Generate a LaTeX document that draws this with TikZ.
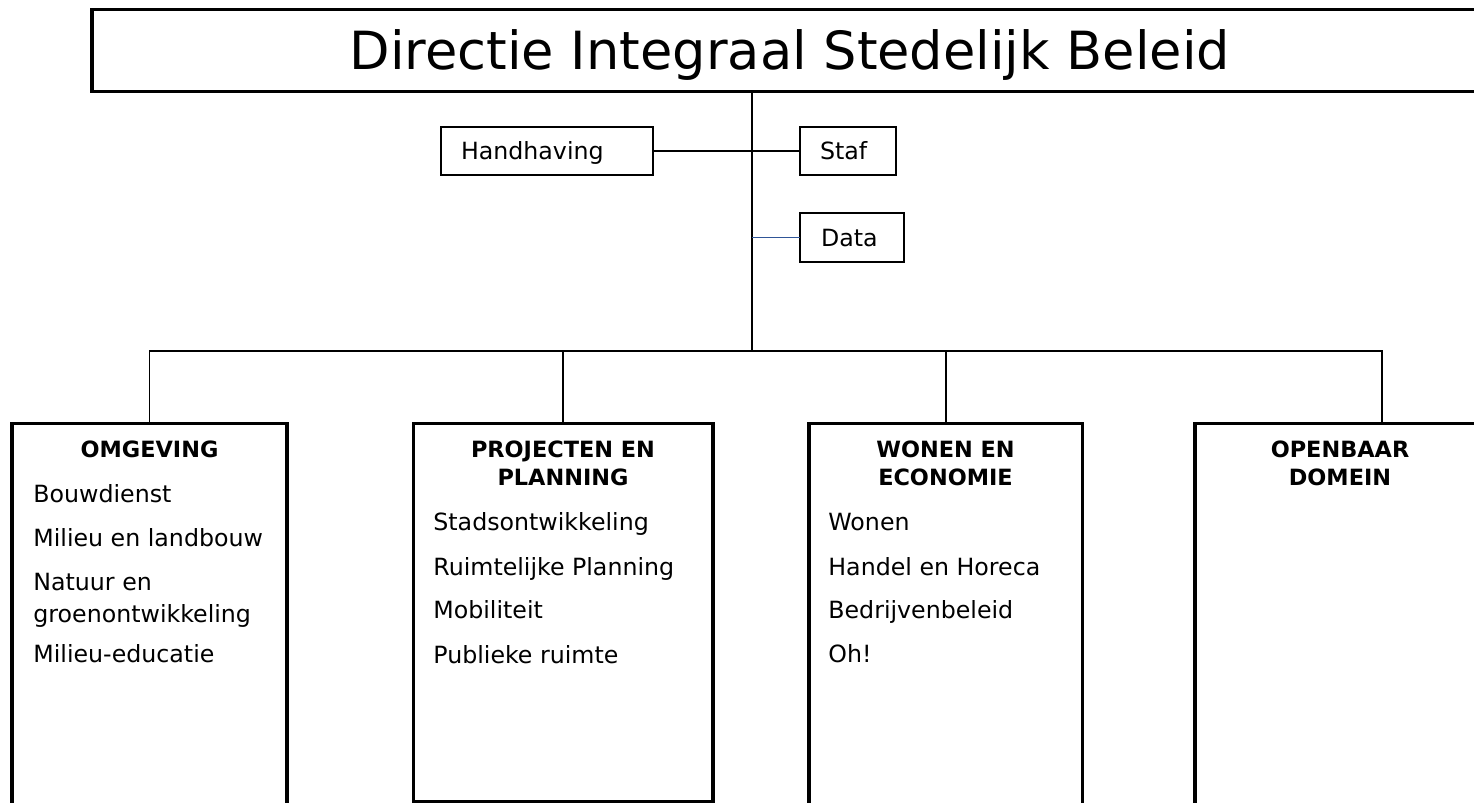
\documentclass[tikz,border=0pt]{standalone}
\usepackage{fontspec}
\setmainfont{DejaVu Sans}
\definecolor{datablue}{RGB}{47,85,151}
\begin{document}
\begin{tikzpicture}[x=0.5pt,y=-0.5pt,
  thickbox/.style={draw, line width=1.6pt, inner sep=0pt, outer sep=0pt, anchor=north west},
  smallbox/.style={draw, line width=0.8pt, outer sep=0pt, anchor=north west, inner ysep=0pt,
    text height=8.64pt, text depth=0pt, align=left, font=\fontsize{11.85}{14}\selectfont},
  titlebox/.style={draw, line width=1.6pt, inner sep=0pt, outer sep=0pt, anchor=north west,
    text height=19.2pt, text depth=0pt, font=\fontsize{26.3}{30}\selectfont},
  item/.style={anchor=base west, inner sep=0pt, font=\fontsize{11.85}{14}\selectfont},
  head/.style={anchor=base, inner sep=0pt, font=\fontsize{11.2}{13}\selectfont\bfseries},
  link/.style={line width=0.8pt},
  datalink/.style={line width=0.9pt, color=datablue}]
\useasboundingbox (0,0) rectangle (1474,803);
\clip (0,0) rectangle (1474,803);

% title
\node[titlebox, minimum width=698pt, minimum height=41pt] (dir) at (92,9.5) {Directie Integraal Stedelijk Beleid};

% small boxes
\node[smallbox, minimum width=106pt, minimum height=24pt, inner xsep=10pt, text width=86pt] (hh) at (441,127) {Handhaving};
\node[smallbox, minimum width=48pt, minimum height=24pt, inner xsep=10pt, text width=28pt] (staf) at (800,127) {Staf};
\node[smallbox, minimum width=52pt, minimum height=24.5pt, inner xsep=10.5pt, text width=31pt] (data) at (800,213) {Data};

% department boxes
\node[thickbox, minimum width=137.5pt, minimum height=203.25pt] (omg) at (12,423.5) {};
\node[thickbox, minimum width=149.75pt, minimum height=189.25pt] (pp) at (413.5,423.5) {};
\node[thickbox, minimum width=136.75pt, minimum height=203.25pt] (we) at (809,423.5) {};
\node[thickbox, minimum width=145pt, minimum height=203.25pt] (od) at (1195,423.5) {};

% junctions
\coordinate (trunk) at (752,351);
\coordinate (odtop) at ([xshift=93.5pt]od.north west);

% connectors
\draw[link] (dir.south -| trunk) -- (trunk);
\draw[link] (hh.east) -- (staf.west);
\draw[datalink] (data.west -| trunk) -- (data.west);
\draw[link] (omg.north) -- (omg.north |- trunk) -- (odtop |- trunk) -- (odtop);
\draw[link] (pp.north |- trunk) -- (pp.north);
\draw[link] (we.north |- trunk) -- (we.north);

% OMGEVING
\node[head] (omgh) at (149.5,457) {OMGEVING};
\node[item] (omg1) at (33,502) {Bouwdienst};
\node[item] (omg2) at (33,546) {Milieu en landbouw};
\node[item] (omg3a) at (33,590) {Natuur en};
\node[item] (omg3b) at (33,622) {groenontwikkeling};
\node[item] (omg4) at (33,662) {Milieu-educatie};

% PROJECTEN EN PLANNING
\node[head] (pph1) at (563,457) {PROJECTEN EN};
\node[head] (pph2) at (563,485) {PLANNING};
\node[item] (pp1) at (433,530) {Stadsontwikkeling};
\node[item] (pp2) at (433,575) {Ruimtelijke Planning};
\node[item] (pp3) at (433,618) {Mobiliteit};
\node[item] (pp4) at (433,663) {Publieke ruimte};

% WONEN EN ECONOMIE
\node[head] (weh1) at (945.5,457) {WONEN EN};
\node[head] (weh2) at (945.5,485) {ECONOMIE};
\node[item] (we1) at (828,530) {Wonen};
\node[item] (we2) at (828,575) {Handel en Horeca};
\node[item] (we3) at (828,618) {Bedrijvenbeleid};
\node[item] (we4) at (828,662) {Oh!};

% OPENBAAR DOMEIN
\node[head] (odh1) at (1340,457) {OPENBAAR};
\node[head] (odh2) at (1340,485) {DOMEIN};
\end{tikzpicture}
\end{document}
